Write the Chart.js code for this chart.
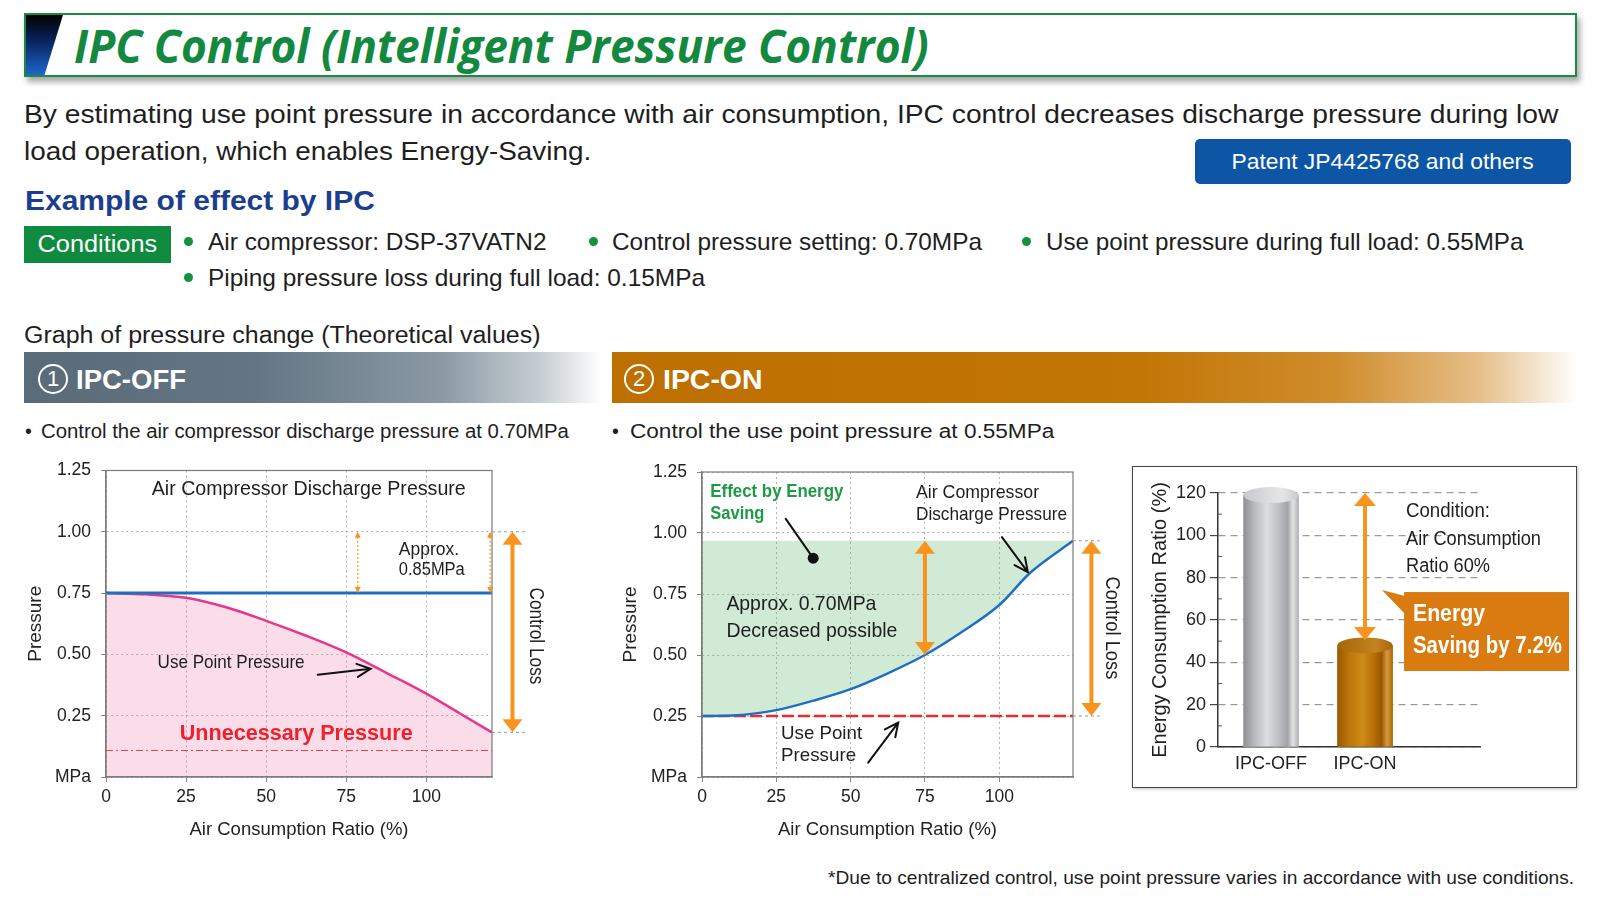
<!DOCTYPE html>
<html>
<head>
<meta charset="utf-8">
<title>IPC Control</title>
<script src="https://cdn.jsdelivr.net/npm/chart.js@4.4.1/dist/chart.umd.min.js"></script>
<style>
  body { margin: 0; width: 1600px; height: 900px; position: relative; overflow: hidden; background: #fff;
         font-family: "Liberation Sans", Arial, sans-serif; color: #1e1e1e; }
  .t { position: absolute; white-space: nowrap; line-height: 1; transform-origin: left center; }
  .c { display: inline-block; white-space: nowrap; line-height: 1; transform-origin: center center; }
  #titleBox { position: absolute; left: 24px; top: 13px; width: 1549px; height: 60px; border: 2px solid #1b8a43;
              box-shadow: 3px 5px 6px rgba(0,0,0,0.35); background: #fff; }
  #slant { position: absolute; left: 0; top: 0; width: 37px; height: 100%;
           background: linear-gradient(#000 0%, #0a2560 45%, #1d66cc 100%);
           clip-path: polygon(0 0, 100% 0, 50% 100%, 0 100%); }
  #title { font-family: "Open Sans", "Noto Sans", sans-serif; font-style: italic; font-weight: 700;
           font-size: 46px; color: #13893f; }
  .box { position: absolute; display: flex; align-items: center; justify-content: center; color: #fff; }
  #patent { left: 1195px; top: 139px; width: 376px; height: 45px; background: #0d56a6; border-radius: 5px; font-size: 22px; }
  #cond { left: 24px; top: 226px; width: 147px; height: 37px; background: #0f8b3f; font-size: 23px; }
  .dot { position: absolute; width: 9px; height: 9px; border-radius: 50%; background: #13913f; }
  .bar { position: absolute; top: 352px; height: 51px; }
  #bar1 { left: 24px; width: 578px; background: linear-gradient(to right, #596a78 0%, #647684 40%, #8a99a4 72%, #c9d0d5 90%, #ffffff 100%); }
  #bar2 { left: 612px; width: 965px; background: linear-gradient(to right, #bd6f00 0%, #c27606 55%, #d08d2c 75%, #e6bf8a 90%, #ffffff 100%); }
  .num { position: absolute; top: 12px; width: 26px; height: 26px; border: 2px solid #fff; border-radius: 50%;
         color: #fff; font-size: 22px; line-height: 26px; text-align: center; }
  .hd { color: #fff; font-weight: bold; font-size: 27px; top: 15px; }
  #barBox { position: absolute; left: 1132px; top: 466px; width: 443px; height: 320px; border: 1px solid #444;
            box-shadow: 1px 1px 3px rgba(0,0,0,0.25); }
  canvas { position: absolute; }
</style>
</head>
<body>

<div id="titleBox">
  <div id="slant"></div>
  <span class="t" id="title" data-w="855" style="left:48px;top:7px">IPC Control (Intelligent Pressure Control)</span>
</div>

<span class="t" data-w="1535" style="left:24px;top:101px;font-size:26.5px">By estimating use point pressure in accordance with air consumption, IPC control decreases discharge pressure during low</span>
<span class="t" data-w="567" style="left:24px;top:138px;font-size:26.5px">load operation, which enables Energy-Saving.</span>

<div class="box" id="patent"><span class="c" data-w="302">Patent JP4425768 and others</span></div>

<span class="t" data-w="350" style="left:25px;top:187px;font-size:27.5px;font-weight:bold;color:#1b3e8e">Example of effect by IPC</span>

<div class="box" id="cond"><span class="c" data-w="120">Conditions</span></div>
<i class="dot" style="left:184px;top:237px"></i>
<span class="t" data-w="339" style="left:208px;top:230px;font-size:24px">Air compressor: DSP-37VATN2</span>
<i class="dot" style="left:589px;top:237px"></i>
<span class="t" data-w="370" style="left:612px;top:230px;font-size:24px">Control pressure setting: 0.70MPa</span>
<i class="dot" style="left:1022px;top:237px"></i>
<span class="t" data-w="478" style="left:1046px;top:230px;font-size:24px">Use point pressure during full load: 0.55MPa</span>
<i class="dot" style="left:184px;top:273px"></i>
<span class="t" data-w="497" style="left:208px;top:266px;font-size:24px">Piping pressure loss during full load: 0.15MPa</span>

<span class="t" data-w="517" style="left:24px;top:324px;font-size:23px">Graph of pressure change (Theoretical values)</span>

<div class="bar" id="bar1">
  <span class="num" style="left:14px">1</span>
  <span class="t hd" data-w="110" style="left:52px">IPC-OFF</span>
</div>
<div class="bar" id="bar2">
  <span class="num" style="left:12px">2</span>
  <span class="t hd" data-w="100" style="left:51px">IPC-ON</span>
</div>

<span class="t" style="left:25px;top:422px;font-size:19.5px">•</span>
<span class="t" data-w="528" style="left:41px;top:422px;font-size:19.5px">Control the air compressor discharge pressure at 0.70MPa</span>
<span class="t" style="left:612px;top:422px;font-size:19.5px">•</span>
<span class="t" data-w="424" style="left:630px;top:422px;font-size:19.5px">Control the use point pressure at 0.55MPa</span>

<canvas id="offChart" width="545" height="396" style="left:20px;top:450px"></canvas>
<canvas id="onChart" width="515" height="396" style="left:615px;top:450px"></canvas>
<div id="barBox"><canvas id="barChart" width="443" height="320" style="left:0;top:0"></canvas></div>

<span class="t" data-w="746" style="left:828px;top:869px;font-size:18.5px">*Due to centralized control, use point pressure varies in accordance with use conditions.</span>

<script>
// ---- data ----
const ratioTicks = [0, 25, 50, 75, 100];
const pressureTicks = [0, 0.25, 0.5, 0.75, 1.0, 1.25];

// IPC-OFF
const offX = [0, 12.5, 25, 37.5, 50, 62.5, 75, 87.5, 100, 110.5, 120.5];
const offUsePoint = [0.75, 0.745, 0.731, 0.692, 0.637, 0.576, 0.508, 0.425, 0.34, 0.259, 0.182];
const offLineX = [0, 120.5];
const offDischarge = [0.75, 0.75];
const offFloor = [0.108, 0.108];

// IPC-ON
const onX = [0, 10, 25, 37.5, 50, 62.5, 75, 87.5, 100, 110.5, 124.8];
const onDischarge = [0.25, 0.252, 0.274, 0.313, 0.36, 0.425, 0.5, 0.595, 0.705, 0.838, 0.968];
const onLineX = [0, 124.8];
const onUsePoint = [0.25, 0.25];

// energy bars
const barLabels = ['IPC-OFF', 'IPC-ON'];
const barValues = [119, 48];
const energyTicks = [0, 20, 40, 60, 80, 100, 120];

const FONT = '"Liberation Sans", Arial, sans-serif';
const ORANGE = '#f7941d';

// squeeze html text to the widths measured on the picture
document.querySelectorAll('[data-w]').forEach(el => {
  const s = +el.dataset.w / el.offsetWidth;
  el.style.transform = 'scaleX(' + s.toFixed(3) + ')';
});

const xy = (xs, ys) => xs.map((x, i) => ({ x, y: ys[i] }));

// ---- drawing helpers for the notes ----
function label(ctx, s, x, y, o) {
  ctx.save();
  ctx.font = (o.bold ? 'bold ' : '') + o.size + 'px ' + FONT;
  ctx.fillStyle = o.color || '#1e1e1e';
  ctx.textBaseline = 'middle';
  ctx.translate(x, y);
  if (o.rotate) ctx.rotate(o.rotate);
  const m = ctx.measureText(s).width;
  const w = o.w || m;
  if (o.align === 'center') ctx.translate(-w / 2, 0);
  ctx.scale(w / m, 1);
  ctx.fillText(s, 0, 0);
  ctx.restore();
}

function bigArrow(ctx, x, y1, y2, lw, hw, hh) {
  ctx.save();
  ctx.strokeStyle = ORANGE; ctx.fillStyle = ORANGE; ctx.lineWidth = lw;
  ctx.beginPath(); ctx.moveTo(x, y1 + hh - 1); ctx.lineTo(x, y2 - hh + 1); ctx.stroke();
  [[y1, 1], [y2, -1]].forEach(([y, d]) => {
    ctx.beginPath(); ctx.moveTo(x, y); ctx.lineTo(x - hw / 2, y + d * hh); ctx.lineTo(x + hw / 2, y + d * hh);
    ctx.closePath(); ctx.fill();
  });
  ctx.restore();
}

function thinArrow(ctx, x, y1, y2) {
  ctx.save();
  ctx.strokeStyle = ORANGE; ctx.fillStyle = ORANGE; ctx.lineWidth = 1.2;
  ctx.setLineDash([2, 2]);
  ctx.beginPath(); ctx.moveTo(x, y1 + 5); ctx.lineTo(x, y2 - 5); ctx.stroke();
  [[y1, 1], [y2, -1]].forEach(([y, d]) => {
    ctx.beginPath(); ctx.moveTo(x, y); ctx.lineTo(x - 3, y + d * 6); ctx.lineTo(x + 3, y + d * 6);
    ctx.closePath(); ctx.fill();
  });
  ctx.restore();
}

function pointer(ctx, x1, y1, x2, y2) {
  const a = Math.atan2(y2 - y1, x2 - x1), L = 15;
  ctx.save();
  ctx.strokeStyle = '#111'; ctx.lineWidth = 2; ctx.lineCap = 'round';
  ctx.beginPath(); ctx.moveTo(x1, y1); ctx.lineTo(x2, y2);
  ctx.moveTo(x2 - L * Math.cos(a - 0.45), y2 - L * Math.sin(a - 0.45)); ctx.lineTo(x2, y2);
  ctx.lineTo(x2 - L * Math.cos(a + 0.45), y2 - L * Math.sin(a + 0.45));
  ctx.stroke();
  ctx.restore();
}

function extLine(ctx, x1, x2, y) {
  ctx.save();
  ctx.strokeStyle = '#9a9a9a'; ctx.lineWidth = 1; ctx.setLineDash([3, 3]);
  ctx.beginPath(); ctx.moveTo(x1, y); ctx.lineTo(x2, y); ctx.stroke();
  ctx.restore();
}

function frame(chart) {
  const { ctx, chartArea: a } = chart;
  ctx.save();
  ctx.strokeStyle = '#7a7a7a'; ctx.lineWidth = 1.2;
  ctx.strokeRect(a.left, a.top, a.right - a.left, a.bottom - a.top);
  ctx.restore();
}

function pressureOptions(xMax, yWidth, xHeight, padding) {
  return {
    responsive: false,
    animation: false,
    layout: { padding },
    plugins: { legend: { display: false }, tooltip: { enabled: false } },
    elements: { point: { radius: 0 } },
    scales: {
      x: {
        type: 'linear', min: 0, max: xMax,
        afterBuildTicks: s => { s.ticks = ratioTicks.map(v => ({ value: v })); },
        afterFit: s => { s.height = xHeight; },
        grid: { color: '#b3b3b3', tickLength: 5, tickColor: '#888', tickBorderDash: [] },
        border: { color: '#7a7a7a', width: 1.2, dash: [2, 3] },
        ticks: { color: '#222', font: { family: FONT, size: 17.5 }, padding: 5, maxRotation: 0 },
        title: { display: true, text: 'Air Consumption Ratio (%)', color: '#222',
                 font: { family: FONT, size: 18.5 }, padding: { top: 4, bottom: 5 } }
      },
      y: {
        min: 0, max: 1.25,
        afterBuildTicks: s => { s.ticks = pressureTicks.map(v => ({ value: v })); },
        afterFit: s => { s.width = yWidth; },
        grid: { color: '#b3b3b3', tickLength: 5, tickColor: '#888', tickBorderDash: [] },
        border: { color: '#7a7a7a', width: 1.2, dash: [2, 3] },
        ticks: { color: '#222', font: { family: FONT, size: 17.5 }, padding: 10,
                 callback: v => v === 0 ? 'MPa' : v.toFixed(2) },
        title: { display: true, text: 'Pressure', color: '#222', font: { family: FONT, size: 19 },
                 padding: { top: 4, bottom: 0 } }
      }
    }
  };
}

// ---- ① IPC-OFF ----
new Chart(document.getElementById('offChart'), {
  type: 'line',
  data: {
    datasets: [
      { label: 'Air Compressor Discharge Pressure', data: xy(offLineX, offDischarge),
        borderColor: '#1f6fc1', borderWidth: 3, fill: false },
      { label: 'Use Point Pressure', data: xy(offX, offUsePoint), borderColor: '#e8358d', borderWidth: 2.5,
        cubicInterpolationMode: 'monotone', fill: 'origin', backgroundColor: 'rgba(236,112,160,0.24)' },
      { label: 'Unnecessary Pressure', data: xy(offLineX, offFloor), borderColor: '#e8323c',
        borderWidth: 1, borderDash: [7, 3, 2, 3], fill: false }
    ]
  },
  options: pressureOptions(offX[offX.length - 1], 86, 69, { top: 18, right: 73, left: 0, bottom: 0 }),
  plugins: [{
    id: 'offNotes',
    afterDraw(chart) {
      const { ctx, scales: { x, y } } = chart;
      const px = v => x.getPixelForValue(v), py = v => y.getPixelForValue(v);
      const low = offUsePoint[offUsePoint.length - 1];
      frame(chart);
      extLine(ctx, px(x.max), px(130.8), py(1.0));
      extLine(ctx, px(x.max), px(130.8), py(low));
      thinArrow(ctx, px(78.6), py(1.0), py(0.75));
      thinArrow(ctx, px(119.9), py(1.0), py(0.75));
      bigArrow(ctx, px(126.9), py(1.0), py(low), 4, 20, 13);
      label(ctx, 'Air Compressor Discharge Pressure', px(63.3), py(1.174), { size: 19.5, w: 314, align: 'center' });
      label(ctx, 'Approx.', px(91.4), py(0.927), { size: 17.5 });
      label(ctx, '0.85MPa', px(91.4), py(0.842), { size: 17.5, w: 66 });
      label(ctx, 'Control Loss', px(134.2), py(0.575), { size: 20, w: 97, align: 'center', rotate: Math.PI / 2 });
      label(ctx, 'Use Point Pressure', px(16.1), py(0.466), { size: 18.5, w: 147 });
      pointer(ctx, px(66.1), py(0.417), px(82.6), py(0.441));
      label(ctx, 'Unnecessary Pressure', px(23), py(0.178), { size: 22.5, bold: true, w: 233, color: '#f0202c' });
    }
  }]
});

// ---- ② IPC-ON ----
new Chart(document.getElementById('onChart'), {
  type: 'line',
  data: {
    datasets: [
      { label: 'Air Compressor Discharge Pressure', data: xy(onX, onDischarge), borderColor: '#1f6fc1',
        borderWidth: 2.5, cubicInterpolationMode: 'monotone',
        fill: { value: onDischarge[onDischarge.length - 1] }, backgroundColor: 'rgba(100,185,120,0.3)' },
      { label: 'Use Point Pressure', data: xy(onLineX, onUsePoint), borderColor: '#ee2b2b',
        borderWidth: 2.5, borderDash: [12, 4], fill: false }
    ]
  },
  options: pressureOptions(onX[onX.length - 1], 87, 69, { top: 22, right: 57, left: 0, bottom: 0 }),
  plugins: [{
    id: 'onNotes',
    afterDraw(chart) {
      const { ctx, scales: { x, y } } = chart;
      const px = v => x.getPixelForValue(v), py = v => y.getPixelForValue(v);
      const top = onDischarge[onDischarge.length - 1];
      frame(chart);
      extLine(ctx, px(x.max), px(134.8), py(top));
      extLine(ctx, px(x.max), px(134.8), py(onUsePoint[0]));
      bigArrow(ctx, px(75), py(top), py(0.5), 4, 20, 13);
      bigArrow(ctx, px(131), py(top), py(onUsePoint[0]), 4, 20, 13);
      label(ctx, 'Effect by Energy', px(2.8), py(1.167), { size: 18.5, bold: true, w: 133, color: '#1d9a46' });
      label(ctx, 'Saving', px(2.8), py(1.077), { size: 18.5, bold: true, w: 54, color: '#1d9a46' });
      ctx.save();
      ctx.strokeStyle = '#111'; ctx.lineWidth = 2;
      ctx.beginPath(); ctx.moveTo(px(28), py(1.061)); ctx.lineTo(px(37.4), py(0.897)); ctx.stroke();
      ctx.fillStyle = '#111'; ctx.beginPath(); ctx.arc(px(37.4), py(0.897), 5.5, 0, Math.PI * 2); ctx.fill();
      ctx.restore();
      label(ctx, 'Air Compressor', px(72), py(1.163), { size: 18.5, w: 123 });
      label(ctx, 'Discharge Pressure', px(72), py(1.073), { size: 18.5, w: 151 });
      pointer(ctx, px(100.9), py(0.983), px(109.6), py(0.84));
      label(ctx, 'Approx. 0.70MPa', px(8.2), py(0.709), { size: 21, w: 150 });
      label(ctx, 'Decreased possible', px(8.2), py(0.598), { size: 21, w: 171 });
      label(ctx, 'Control Loss', px(137.7), py(0.611), { size: 20, w: 103, align: 'center', rotate: Math.PI / 2 });
      label(ctx, 'Use Point', px(26.6), py(0.177), { size: 19, w: 81 });
      label(ctx, 'Pressure', px(26.6), py(0.087), { size: 19, w: 75 });
      pointer(ctx, px(55.9), py(0.059), px(66), py(0.223));
    }
  }]
});

// ---- energy consumption bars ----
const cylinderStops = [
  [[0, '#8e8f94'], [0.2, '#b9babe'], [0.42, '#dcdde0'], [0.62, '#c1c2c6'], [0.8, '#a2a3a8'], [0.9, '#e4e4e6'], [1, '#b0b1b5']],
  [[0, '#9c5900'], [0.22, '#bb780a'], [0.45, '#cf8c18'], [0.65, '#b86f06'], [0.8, '#9a5700'], [0.9, '#d69c3a'], [1, '#ae680c']]
];
const capColors = [['#c8c9cc', '#e6e6e8'], ['#a8650a', '#c48320']];

new Chart(document.getElementById('barChart'), {
  type: 'bar',
  data: {
    datasets: [{
      label: 'Energy Consumption Ratio (%)',
      data: xy(barLabels.map((_, i) => i), barValues),
      backgroundColor: ['#b9babe', '#b8720a'],
      barThickness: 55
    }]
  },
  options: {
    responsive: false,
    animation: false,
    layout: { padding: { top: 26, right: 96, left: 0, bottom: 0 } },
    plugins: { legend: { display: false }, tooltip: { enabled: false } },
    scales: {
      x: {
        type: 'linear', min: -0.564, max: 2.223, offset: false,
        afterBuildTicks: s => { s.ticks = barLabels.map((_, i) => ({ value: i })); },
        afterFit: s => { s.height = 40; },
        grid: { drawOnChartArea: false, drawTicks: false, offset: false },
        border: { color: '#333', width: 1.5 },
        ticks: { color: '#222', font: { family: FONT, size: 18 }, padding: 6, callback: v => barLabels[v] }
      },
      y: {
        min: 0, max: 120,
        afterBuildTicks: s => { s.ticks = energyTicks.map(v => ({ value: v })); },
        afterFit: s => { s.width = 85; },
        grid: { color: '#9a9a9a', lineWidth: 1.2, tickLength: 8, tickColor: '#444', tickWidth: 1.2, tickBorderDash: [] },
        border: { color: '#333', width: 1.5, dash: [7, 5] },
        ticks: { color: '#222', font: { family: FONT, size: 18 }, padding: 4 },
        title: { display: true, text: 'Energy Consumption Ratio (%)', color: '#222',
                 font: { family: FONT, size: 20 }, padding: { top: 15, bottom: 0 } }
      }
    }
  },
  plugins: [{
    id: 'cylinders',
    afterDatasetsDraw(chart) {
      const { ctx } = chart;
      chart.getDatasetMeta(0).data.forEach((bar, i) => {
        const { x, y, base, width } = bar.getProps(['x', 'y', 'base', 'width'], true);
        const l = x - width / 2, r = x + width / 2, ry = 8;
        const g = ctx.createLinearGradient(l, 0, r, 0);
        cylinderStops[i].forEach(([o, c]) => g.addColorStop(o, c));
        ctx.save();
        ctx.fillStyle = g;
        ctx.fillRect(l, y, width, base - y);
        const cg = ctx.createLinearGradient(l, 0, r, 0);
        cg.addColorStop(0, capColors[i][0]); cg.addColorStop(0.7, capColors[i][1]); cg.addColorStop(1, capColors[i][0]);
        ctx.fillStyle = cg;
        ctx.beginPath(); ctx.ellipse(x, y, width / 2, ry, 0, 0, Math.PI * 2); ctx.fill();
        ctx.restore();
      });
    },
    afterDraw(chart) {
      const { ctx, scales: { x, y } } = chart;
      const px = v => x.getPixelForValue(v), py = v => y.getPixelForValue(v);
      // minor ticks
      ctx.save();
      ctx.strokeStyle = '#555'; ctx.lineWidth = 1;
      for (let v = 10; v < 120; v += 20) {
        ctx.beginPath(); ctx.moveTo(x.left, py(v)); ctx.lineTo(x.left + 4, py(v)); ctx.stroke();
      }
      ctx.restore();
      bigArrow(ctx, px(1), py(120), py(50.5), 4, 22, 13);
      label(ctx, 'Condition:', px(1.436), py(111), { size: 19.5, w: 84 });
      label(ctx, 'Air Consumption', px(1.436), py(97.8), { size: 19.5, w: 135 });
      label(ctx, 'Ratio 60%', px(1.436), py(85), { size: 19.5, w: 84 });
      // callout box
      const bl = px(1.415), br = px(3.17), bt = py(73.2), bb = py(35.9);
      ctx.save();
      ctx.fillStyle = '#d97b10';
      ctx.fillRect(bl, bt, br - bl, bb - bt);
      ctx.beginPath(); ctx.moveTo(px(1.18), py(74.2)); ctx.lineTo(bl + 1, bt + 4); ctx.lineTo(bl + 1, bt + 22);
      ctx.closePath(); ctx.fill();
      ctx.restore();
      label(ctx, 'Energy', px(1.51), py(62.4), { size: 23, bold: true, w: 72, color: '#fff' });
      label(ctx, 'Saving by 7.2%', px(1.51), py(47.2), { size: 23, bold: true, w: 149, color: '#fff' });
    }
  }]
});
</script>
</body>
</html>
